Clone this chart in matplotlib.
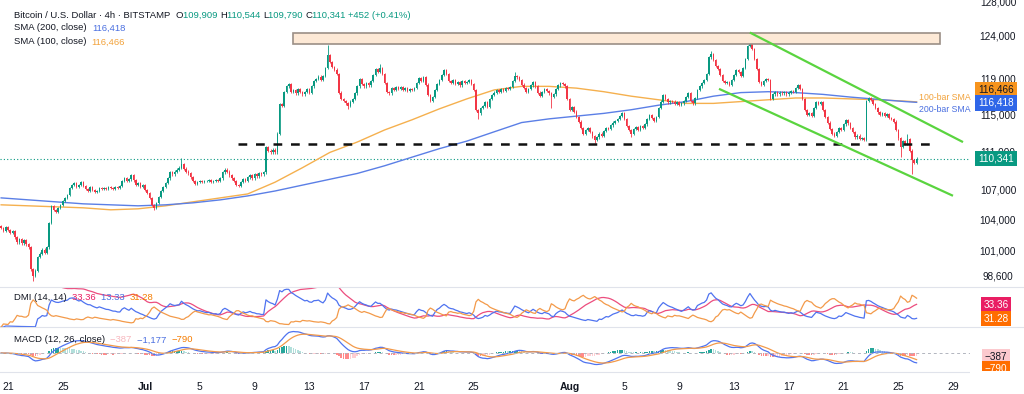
import numpy as np
import pandas as pd
import matplotlib
matplotlib.use("Agg")
import matplotlib.pyplot as plt
from matplotlib import transforms
from matplotlib.patches import Rectangle
from matplotlib.lines import Line2D

plt.rcParams['font.family'] = ['Liberation Sans', 'DejaVu Sans']

# 4h closes in thousand USD, Jun 20 12:00 -> Aug 26 08:00 (one row = one day)
closes_k = [
    103.3, 103.0, 103.4, 103.1, 102.8, 103.0,
    102.4, 101.9, 102.2, 101.8, 102.1, 101.7,
    101.4, 99.3, 98.7, 99.2, 100.5, 100.8,
    101.2, 100.9, 101.4, 103.8, 105.5, 105.1,
    104.9, 105.3, 105.6, 106.0, 106.3, 106.6,
    107.3, 107.6, 107.8, 107.4, 107.6, 107.9,
    107.5, 107.2, 107.0, 107.4, 107.1, 106.9,
    107.0, 107.3, 107.2, 107.3, 107.2, 107.4,
    107.3, 107.2, 107.4, 107.3, 107.5, 108.0,
    108.3, 108.0, 108.2, 108.6, 108.1, 107.6,
    107.8, 107.4, 107.6, 107.1, 106.8, 106.3,
    105.6, 105.3, 105.8, 106.4, 107.0, 107.4,
    107.8, 108.3, 108.9, 108.7, 109.0, 109.2,
    109.4, 109.8, 109.3, 109.0, 108.8, 108.4,
    108.0, 107.7, 107.9, 108.0, 107.9, 108.0,
    108.0, 108.1, 107.9, 108.0, 108.1, 108.0,
    108.3, 108.9, 109.2, 109.0, 108.6, 108.3,
    108.0, 107.6, 107.5, 107.9, 108.2, 108.0,
    108.4, 108.6, 108.3, 108.7, 108.5, 108.8,
    108.7, 108.9, 111.6, 111.2, 111.0, 111.3,
    111.0, 113.0, 116.2, 116.0, 117.6, 118.2,
    118.5, 117.6, 117.8, 117.4, 117.9, 117.6,
    117.3, 117.6, 117.9, 117.5, 118.2, 118.8,
    119.0, 119.3, 118.9, 119.4, 120.3, 121.8,
    121.0, 120.4, 120.1, 119.6, 117.5, 116.8,
    116.6, 116.3, 116.0, 116.5, 116.8, 117.4,
    118.2, 119.0, 118.5, 118.2, 118.6, 118.3,
    118.8, 119.5, 120.2, 119.8, 120.3, 119.6,
    118.6, 117.6, 117.4, 118.0, 117.8, 118.1,
    117.9, 118.1, 117.8, 118.0, 117.7, 117.9,
    117.8, 118.0, 118.6, 119.1, 118.8, 119.2,
    118.4, 117.2, 116.6, 117.0, 117.8, 118.5,
    118.9, 119.5, 120.0, 119.6, 118.8, 118.6,
    118.9, 118.5, 118.7, 118.3, 118.8, 118.6,
    118.7, 118.9, 118.5, 117.8, 115.6, 115.2,
    115.8, 116.0, 116.4, 115.9, 116.8, 117.2,
    117.5, 117.8, 117.6, 117.9, 117.7, 118.0,
    117.9, 118.1, 118.8, 119.4, 119.2, 118.9,
    118.4, 118.0, 117.6, 117.9, 118.3, 118.7,
    118.2, 117.5, 117.1, 117.6, 117.9, 117.7,
    117.4, 117.0, 117.3, 117.9, 118.3, 118.6,
    118.5, 118.2, 116.8, 115.6, 115.9, 115.4,
    114.8, 114.3, 113.6, 113.0, 113.4, 113.6,
    113.2, 112.7, 112.3, 112.6, 113.0, 112.8,
    113.3, 113.6, 113.5, 113.9, 114.2, 114.4,
    114.6, 114.9, 115.2, 114.6, 113.8, 113.4,
    113.0, 113.5, 113.7, 113.4, 113.8, 113.6,
    114.0, 114.6, 115.0, 114.7, 114.4, 114.8,
    115.8, 116.5, 117.2, 116.8, 116.4, 116.6,
    116.5, 116.2, 116.4, 116.1, 116.3, 116.6,
    117.0, 117.4, 116.6, 116.3, 116.9, 117.8,
    118.2, 118.6, 118.9, 119.6, 121.5, 121.9,
    121.2, 120.5, 120.2, 119.5, 118.8, 118.6,
    118.7, 118.4, 118.9, 119.5, 120.0, 119.8,
    119.4, 120.3, 121.3, 122.8, 123.6, 122.5,
    121.3, 120.2, 118.7, 118.4, 118.8, 119.0,
    118.9, 116.8, 117.3, 117.6, 117.3, 117.5,
    117.4, 117.6, 117.3, 117.5, 117.7, 117.6,
    118.0, 118.3, 117.9, 116.8, 115.6, 115.0,
    115.2, 114.9, 115.8, 116.4, 116.2, 116.4,
    115.6, 114.8, 114.2, 113.5, 113.0, 112.8,
    113.2, 113.6, 113.4, 114.0, 114.5, 114.1,
    113.6, 113.2, 112.6, 112.8, 112.4, 112.5,
    112.3, 116.6, 116.9, 116.7, 116.2, 115.8,
    115.3, 115.0, 115.2, 114.9, 115.1, 114.7,
    114.6, 114.3, 113.4, 112.5, 111.6, 112.2,
    111.9, 112.4, 111.2, 110.2, 109.889, 110.341,
]
first_open_k = 103.5
wick_k = 0.13
# visible long wicks (bar index -> price)
high_marks = {79: 110.4, 143: 122.9, 166: 120.7, 225: 119.8, 311: 122.3,
              328: 124.4, 397: 113.0, 401: 110.544}
low_marks = {14: 98.2, 67: 105.1, 152: 115.7, 209: 114.6, 241: 115.8,
             260: 112.0, 276: 112.6, 394: 110.5, 399: 108.7, 401: 109.79}

# moving averages read every 2 days
sma_idx = list(range(0, 397, 12)) + [401]
sma200_k = [106.3, 106.1, 105.9, 105.7, 105.6, 105.5, 105.6, 105.8, 106.1, 106.5,
            107.0, 107.6, 108.2, 108.8, 109.6, 110.5, 111.4, 112.2, 113.2, 114.2,
            114.6, 114.9, 115.2, 115.6, 116.1, 116.5, 117.1, 117.5, 117.6, 117.5,
            117.3, 117.0, 116.75, 116.5, 116.418]
sma100_k = [105.6, 105.5, 105.4, 105.3, 105.1, 105.2, 105.5, 105.9, 106.3, 106.7,
            107.9, 109.4, 111.0, 112.1, 113.4, 114.5, 115.7, 116.8, 117.8, 118.2,
            118.2, 118.0, 117.6, 117.1, 116.7, 116.3, 116.3, 116.5, 116.7, 116.9,
            116.9, 116.8, 116.7, 116.55, 116.466]

# date ticks: bar index of midnight for each label
tick_idx = [3, 27, 63, 87, 111, 135, 159, 183, 207, 249, 273, 297, 321, 345, 369, 393, 417]
tick_lbl = ['21', '25', 'Jul', '5', '9', '13', '17', '21', '25', 'Aug', '5', '9', '13', '17', '21', '25', '29']

zone_k = (123.06, 124.35)
zone_idx = (127.8, 411.2)
support_k = 111.9
support_idx = (103.7, 410.4)
chan_upper = ((328.4, 124.35), (420.9, 112.15))
chan_lower = ((314.9, 117.87), (416.5, 106.56))

UP, DN = '#089981', '#F23645'
DARK = '#131722'
C200, C100 = '#5b7fe6', '#f5b04e'

c = np.array(closes_k) * 1000
o = np.r_[first_open_k * 1000, c[:-1]]
h = np.maximum(o, c) + wick_k * 1000
l = np.minimum(o, c) - wick_k * 1000
for k, v in high_marks.items():
    h[k] = v * 1000
for k, v in low_marks.items():
    l[k] = v * 1000
x = np.arange(len(c))

# indicators
cs, hs, ls = pd.Series(c), pd.Series(h), pd.Series(l)
ema = lambda s, n: s.ewm(span=n, adjust=False).mean()
macd = ema(cs, 12) - ema(cs, 26)
signal = ema(macd, 9)
hist = macd - signal
up = hs.diff().fillna(0)
dn = (-ls.diff()).fillna(0)
pdm = pd.Series(np.where((up > dn) & (up > 0), up, 0.0))
mdm = pd.Series(np.where((dn > up) & (dn > 0), dn, 0.0))
pc = cs.shift().fillna(cs[0])
tr = pd.concat([hs - ls, (hs - pc).abs(), (ls - pc).abs()], axis=1).max(axis=1)
rma = lambda s: s.ewm(alpha=1 / 14, adjust=False).mean()
pdi = 100 * rma(pdm) / rma(tr)
mdi = 100 * rma(mdm) / rma(tr)
adx = rma(100 * (pdi - mdi).abs() / (pdi + mdi))

W, H = 1024, 394
fig = plt.figure(figsize=(W / 100, H / 100), dpi=100)
fig.patch.set_facecolor('white')
ax = fig.add_axes([0, 1 - 287 / H, 970 / W, 287 / H])
ax_d = fig.add_axes([0, 1 - 327 / H, 970 / W, 40 / H], sharex=ax)
ax_m = fig.add_axes([0, 1 - 372 / H, 970 / W, 45 / H], sharex=ax)
for a in (ax, ax_d, ax_m):
    for s in a.spines.values():
        s.set_visible(False)
    a.tick_params(left=False, right=False, labelleft=False, bottom=False, labelbottom=False)

# candles
col = np.where(c >= o, UP, DN)
ax.vlines(x, l, h, colors=col, lw=0.6, zorder=3)
ax.bar(x, np.maximum(np.abs(c - o), 40), bottom=np.minimum(o, c), width=0.7,
       color=col, lw=0, zorder=4)
ax.plot(sma_idx, np.array(sma100_k) * 1000, color=C100, lw=1.0, zorder=2)
ax.plot(sma_idx, np.array(sma200_k) * 1000, color=C200, lw=1.0, zorder=2)

ax.set_yscale('log')
ax.set_ylim(97659, 128321)
ax.set_xlim(-0.5, 424.4)
ax.minorticks_off()

ax.add_patch(Rectangle((zone_idx[0], zone_k[0] * 1000), zone_idx[1] - zone_idx[0],
                       (zone_k[1] - zone_k[0]) * 1000, facecolor='#fde9d6',
                       edgecolor='#9b8f86', lw=1.2, zorder=5))
ax.plot(support_idx, [support_k * 1000] * 2, color='#111111', lw=1.8,
        dashes=(3.5, 3.5), zorder=6)
for (x0, y0), (x1, y1) in (chan_upper, chan_lower):
    ax.plot([x0, x1], [y0 * 1000, y1 * 1000], color='#5ad43f', lw=1.6, zorder=6)
ax.axhline(c[-1], color=UP, lw=0.8, ls=(0, (1, 2)), zorder=1)
ax.text(402, 116950, '100-bar SMA', color='#f2a23a', fontsize=6.3, va='center', zorder=7)
ax.text(402, 115600, '200-bar SMA', color='#4a6fe0', fontsize=6.3, va='center', zorder=7)

# DMI
ax_d.plot(x, adx, color='#ec4d7e', lw=0.9)
ax_d.plot(x, pdi, color='#4f73f0', lw=0.9)
ax_d.plot(x, mdi, color='#f39a4a', lw=0.9)
ax_d.set_ylim(0, 60)

# MACD
hc = []
for i, v in enumerate(hist):
    prev = hist[i - 1] if i else v
    if v >= 0:
        hc.append('#26a69a' if v >= prev else '#b2dfdb')
    else:
        hc.append('#ff8a8a' if v < prev else '#ffcdd2')
ax_m.bar(x, hist, width=0.7, color=hc, lw=0)
ax_m.plot(x, macd, color='#4f73f0', lw=0.9)
ax_m.plot(x, signal, color='#f39a4a', lw=0.9)
ax_m.axhline(0, color='#b2b5be', lw=0.7, ls=(0, (3, 3)))
ax_m.set_ylim(-2236, 3060)

ax_m.set_xticks(tick_idx)
ax_m.set_xticklabels(tick_lbl)
ax_m.tick_params(labelbottom=True, labelsize=7.5, pad=4, colors=DARK)
for t in ax_m.get_xticklabels():
    if t.get_text() in ('Jul', 'Aug'):
        t.set_fontweight('bold')

# pane separators
for py in (287, 327, 372):
    fig.add_artist(Line2D([0, 1], [1 - py / H] * 2, color='#e0e3eb', lw=0.8))

# price scale
yt = transforms.blended_transform_factory(fig.transFigure, ax.transData)
for p in [128000, 124000, 119000, 115000, 111000, 107000, 104000, 101000, 98600]:
    fig.text(998 / W, p, f'{p:,}', transform=yt, ha='center', va='center',
             fontsize=7.2, color=DARK, zorder=2)


def tag(axis, value, text, fc, tc, dy=0):
    tr_ = transforms.offset_copy(transforms.blended_transform_factory(fig.transFigure, axis.transData),
                                 fig=fig, y=dy, units='dots')
    fig.text(996 / W, value, text, transform=tr_, ha='center', va='center', fontsize=7.2,
             color=tc, zorder=10,
             bbox=dict(boxstyle='square,pad=0.28', fc=fc, ec='none'))


tag(ax, 116466, '116,466', '#f7941d', DARK, dy=12.5)
tag(ax, 116418, '116,418', '#2f66e8', 'white', dy=-0.5)
tag(ax, c[-1], '110,341', UP, 'white')
tag(ax_d, 33.36, '33.36', '#e91e63', 'white')
tag(ax_d, 31.28, '31.28', '#ff6d00', 'white', dy=-12.5)
tag(ax_m, -387, '\u2212387', '#fcc9ce', DARK, dy=-1)
tag(ax_m, -790, '\u2212790', '#ff6d00', 'white', dy=-9)
fig.add_artist(Rectangle((970 / W, 0), 54 / W, 1 - 371 / H, transform=fig.transFigure,
                         facecolor='white', edgecolor='none', zorder=20))

# legends
renderer = fig.canvas.get_renderer()


def seq_text(px, py, parts, size=6.8):
    fx = px / W
    for s, colr in parts:
        t = fig.text(fx, 1 - py / H, s, color=colr, fontsize=size, va='center', ha='left')
        fx += t.get_window_extent(renderer).width / W


seq_text(14, 15, [('Bitcoin / U.S. Dollar \u00b7 4h \u00b7 BITSTAMP  ', DARK), ('O', DARK), ('109,909 ', UP),
                  ('H', DARK), ('110,544 ', UP), ('L', DARK), ('109,790 ', UP),
                  ('C', DARK), ('110,341 ', UP), ('+452 (+0.41%)', UP)])
seq_text(14, 28, [('SMA (200, close)  ', DARK), ('116,418', '#4a6fe0')])
seq_text(14, 42, [('SMA (100, close)  ', DARK), ('116,466', '#f2a23a')])
seq_text(14, 298, [('DMI (14, 14)  ', DARK), ('33.36  ', '#e91e63'), ('13.33  ', '#4a6fe0'),
                   ('31.28', '#f57c00')])
seq_text(14, 340, [('MACD (12, 26, close)  ', DARK), ('\u2212387  ', '#f7b6bd'),
                   ('\u22121,177  ', '#4a6fe0'), ('\u2212790', '#f57c00')])

fig.savefig('out.png', dpi=100, facecolor='white')
